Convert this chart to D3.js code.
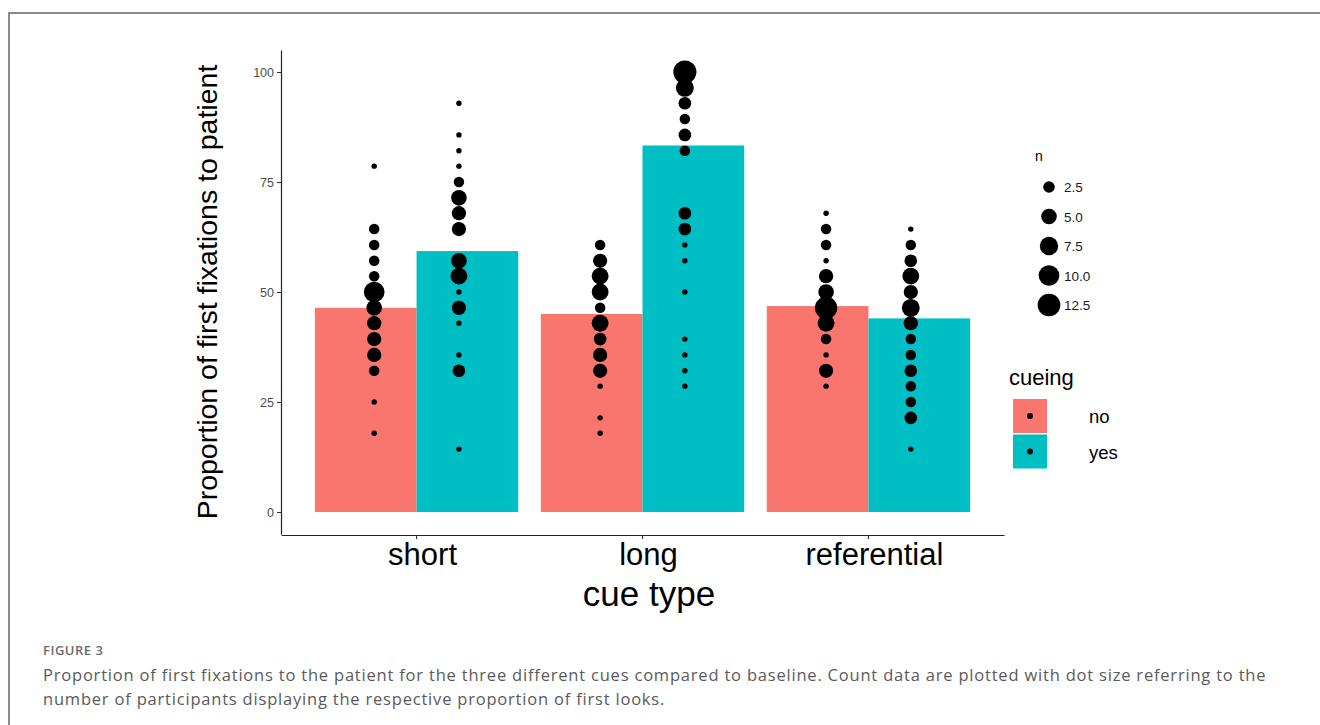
<!DOCTYPE html>
<html>
<head>
<meta charset="utf-8">
<script src="https://cdn.jsdelivr.net/npm/d3@7"></script>
<style>
  body { margin: 0; background: #fff; }
  text { font-family: "Liberation Sans", Arial, sans-serif; }
  .caption { font-family: "Open Sans", sans-serif; fill: #5a5a5a; }
</style>
</head>
<body>
<div id="chart"></div>
<script>
// categories
var cueTypes = ["short", "long", "referential"];
var cueing = ["no", "yes"];
var cueColors = ["#F8766D", "#00BFC4"];

// bar heights (mean proportion) per cue type
var meanNo = [46.4, 45.0, 46.8];
var meanYes = [59.3, 83.3, 44.0];

// dots: [proportion, n participants]
var shortNo = [[78.6,1],[64.3,2],[60.7,2],[57.1,2],[53.6,2],[50.0,10],[46.4,5],[42.9,4],[39.3,4],[35.7,4],[32.1,2],[25.0,1],[17.9,1]];
var shortYes = [[92.9,1],[85.7,1],[82.1,1],[78.6,1],[75.0,2],[71.4,5],[67.9,4],[64.3,4],[57.1,5],[53.6,6],[50.0,1],[46.4,4],[42.9,1],[35.7,1],[32.1,3],[14.3,1]];
var longNo = [[60.7,2],[57.1,4],[53.6,6],[50.0,6],[46.4,2],[42.9,6],[39.3,3],[35.7,4],[32.1,4],[28.6,1],[21.4,1],[17.9,1]];
var longYes = [[100,13],[96.4,7],[92.9,3],[89.3,2],[85.7,3],[82.1,2],[67.9,3],[64.3,3],[60.7,1],[57.1,1],[50.0,1],[39.3,1],[35.7,1],[32.1,1],[28.6,1]];
var refNo = [[67.9,1],[64.3,2],[60.7,2],[57.1,1],[53.6,4],[50.0,5],[46.4,12],[42.9,6],[39.3,2],[35.7,1],[32.1,4],[28.6,1]];
var refYes = [[64.3,1],[60.7,2],[57.1,3],[53.6,6],[50.0,4],[46.4,7],[42.9,4],[39.3,2],[35.7,2],[32.1,3],[28.6,2],[25.0,2],[21.4,3],[14.3,1]];

var yTicks = [0, 25, 50, 75, 100];
var sizeBreaks = [2.5, 5.0, 7.5, 10.0, 12.5];

var W = 1320, H = 725;

var svg = d3.select("#chart")
  .append("svg")
    .attr("width", W)
    .attr("height", H);

// figure frame
svg.append("path")
  .attr("d", "M9," + H + "V13H" + W)
  .attr("fill", "none")
  .attr("stroke", "#8a8a8a")
  .attr("stroke-width", 2);

// scales
var x = d3.scaleBand()
  .domain(cueTypes)
  .range([281, 1004])
  .paddingInner(0.1)
  .paddingOuter(0.15);

var step = x.step();

var xSub = d3.scaleBand()
  .domain(cueing)
  .range([0, x.bandwidth()]);

// points are dodged with a narrower width than the bars
var xDot = d3.scalePoint()
  .domain(cueing)
  .range([-0.1875 * step, 0.1875 * step]);

var y = d3.scaleLinear()
  .domain([-5, 105])
  .range([534, 50]);

var nMin = 1, nMax = 13;
var rScale = d3.scaleLinear().domain([0, 1]).range([2.7, 11.55]);
function radius(n) { return rScale(Math.sqrt((n - nMin) / (nMax - nMin))); }

// bars
var barData = [];
cueTypes.forEach(function(c, i) {
  barData.push({cue: c, cueing: "no", value: meanNo[i]});
  barData.push({cue: c, cueing: "yes", value: meanYes[i]});
});

svg.append("g")
  .selectAll("rect")
  .data(barData)
  .enter()
  .append("rect")
    .attr("x", function(d) { return x(d.cue) + xSub(d.cueing); })
    .attr("y", function(d) { return y(d.value); })
    .attr("width", xSub.bandwidth())
    .attr("height", function(d) { return y(0) - y(d.value); })
    .style("fill", function(d) { return cueColors[cueing.indexOf(d.cueing)]; });

// dots
var groups = [
  {cue: "short", cueing: "no", pts: shortNo},
  {cue: "short", cueing: "yes", pts: shortYes},
  {cue: "long", cueing: "no", pts: longNo},
  {cue: "long", cueing: "yes", pts: longYes},
  {cue: "referential", cueing: "no", pts: refNo},
  {cue: "referential", cueing: "yes", pts: refYes}
];
var dotData = [];
groups.forEach(function(g) {
  g.pts.forEach(function(p) {
    dotData.push({cue: g.cue, cueing: g.cueing, value: p[0], n: p[1]});
  });
});

svg.append("g")
  .selectAll("circle")
  .data(dotData)
  .enter()
  .append("circle")
    .attr("cx", function(d) { return x(d.cue) + x.bandwidth() / 2 + xDot(d.cueing); })
    .attr("cy", function(d) { return y(d.value); })
    .attr("r", function(d) { return radius(d.n); })
    .style("fill", "#000");

// axes
var yAxis = svg.append("g")
  .attr("transform", "translate(281,0)")
  .call(d3.axisLeft(y).tickValues(yTicks).tickSize(4).tickPadding(3).tickSizeOuter(0));
yAxis.select(".domain").attr("stroke", "#222").attr("stroke-width", 1.2);
yAxis.selectAll(".tick line").attr("stroke", "#333").attr("stroke-width", 1.1);
yAxis.selectAll(".tick text")
  .attr("fill", "#4d4d4d")
  .style("font-size", "12.5px")
  .style("font-family", "Liberation Sans, Arial, sans-serif");

var xAxis = svg.append("g")
  .attr("transform", "translate(0,535)")
  .call(d3.axisBottom(x).tickSize(4).tickPadding(3).tickSizeOuter(0));
xAxis.select(".domain").attr("stroke", "#222").attr("stroke-width", 1.2);
xAxis.selectAll(".tick line").attr("stroke", "#333").attr("stroke-width", 1.1);
xAxis.selectAll(".tick text")
  .attr("fill", "#000")
  .attr("dx", 6)
  .attr("dy", "0.75em")
  .style("font-size", "31px")
  .style("font-family", "Liberation Sans, Arial, sans-serif");

// axis titles
svg.append("text")
  .attr("transform", "translate(217,292) rotate(-90)")
  .style("text-anchor", "middle")
  .style("font-size", "28.5px")
  .text("Proportion of first fixations to patient");

svg.append("text")
  .attr("x", 649)
  .attr("y", 606)
  .style("text-anchor", "middle")
  .style("font-size", "35px")
  .text("cue type");

// size legend
var sizeLeg = svg.append("g").attr("transform", "translate(1035,0)");
sizeLeg.append("text")
  .attr("x", 0).attr("y", 161)
  .style("font-size", "14px")
  .text("n");
sizeLeg.selectAll("circle")
  .data(sizeBreaks)
  .enter()
  .append("circle")
    .attr("cx", 14)
    .attr("cy", function(d, i) { return 187 + i * 29.5; })
    .attr("r", function(d) { return radius(d); })
    .style("fill", "#000");
sizeLeg.selectAll(".lab")
  .data(sizeBreaks)
  .enter()
  .append("text")
    .attr("class", "lab")
    .attr("x", 29)
    .attr("y", function(d, i) { return 187 + i * 29.5 + 5; })
    .style("font-size", "13.5px")
    .attr("fill", "#1a1a1a")
    .text(function(d) { return d.toFixed(1); });

// cueing legend
var fillLeg = svg.append("g").attr("transform", "translate(1009,0)");
fillLeg.append("text")
  .attr("x", 0).attr("y", 385)
  .style("font-size", "22px")
  .text("cueing");
fillLeg.selectAll("rect")
  .data(cueing)
  .enter()
  .append("rect")
    .attr("x", 4)
    .attr("y", function(d, i) { return 399 + i * 35.5; })
    .attr("width", 34)
    .attr("height", 34)
    .style("fill", function(d, i) { return cueColors[i]; });
fillLeg.selectAll("circle")
  .data(cueing)
  .enter()
  .append("circle")
    .attr("cx", 21)
    .attr("cy", function(d, i) { return 416 + i * 35.5; })
    .attr("r", 3)
    .style("fill", "#000");
fillLeg.selectAll(".lab")
  .data(cueing)
  .enter()
  .append("text")
    .attr("class", "lab")
    .attr("x", 80)
    .attr("y", function(d, i) { return 423 + i * 35.5; })
    .style("font-size", "18.5px")
    .text(function(d) { return d; });

// caption
svg.append("text")
  .attr("class", "caption")
  .attr("x", 43).attr("y", 655)
  .style("font-size", "13px")
  .style("font-weight", 600)
  .style("letter-spacing", "0.5px")
  .style("fill", "#6b6b6b")
  .text("FIGURE 3");
svg.append("text")
  .attr("class", "caption")
  .attr("x", 43).attr("y", 681)
  .style("font-size", "16.5px")
  .style("letter-spacing", "0.8px")
  .text("Proportion of first fixations to the patient for the three different cues compared to baseline. Count data are plotted with dot size referring to the");
svg.append("text")
  .attr("class", "caption")
  .attr("x", 43).attr("y", 705)
  .style("font-size", "16.5px")
  .style("letter-spacing", "0.8px")
  .text("number of participants displaying the respective proportion of first looks.");
</script>
</body>
</html>
